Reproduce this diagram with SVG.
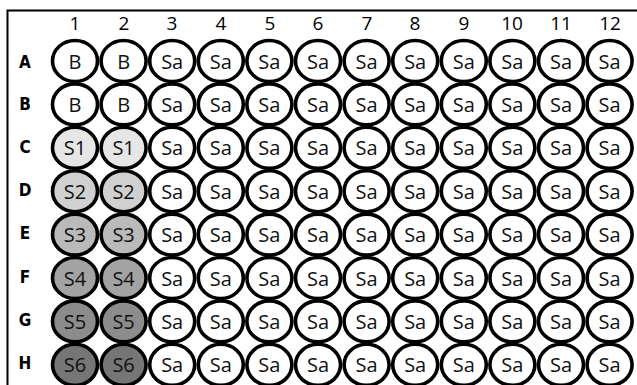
<svg xmlns="http://www.w3.org/2000/svg" width="637" height="385" viewBox="0 0 637 385">
<style>
.w{stroke:#000;stroke-width:3.6;fill:#fff}
.t{font-family:"Open Sans","DejaVu Sans",sans-serif;font-size:20px;fill:#111;text-anchor:middle;dominant-baseline:central}
.c{font-family:"Open Sans","DejaVu Sans",sans-serif;font-size:19px;fill:#000;text-anchor:middle}
.r{font-family:"DejaVu Sans Condensed","Liberation Sans Narrow",sans-serif;font-weight:bold;font-size:17px;fill:#000;text-anchor:middle;dominant-baseline:central}
</style>
<rect x="0" y="0" width="637" height="385" fill="#fff"/>
<rect x="7.5" y="10.5" width="640" height="390" fill="none" stroke="#000" stroke-width="2"/>
<g id="col-labels">
<text class="c" x="75" y="30">1</text><text class="c" x="124" y="30">2</text><text class="c" x="172" y="30">3</text><text class="c" x="221" y="30">4</text><text class="c" x="270" y="30">5</text><text class="c" x="318" y="30">6</text><text class="c" x="367" y="30">7</text><text class="c" x="415" y="30">8</text><text class="c" x="464" y="30">9</text><text class="c" x="512" y="30">10</text><text class="c" x="561" y="30">11</text><text class="c" x="610" y="30">12</text>
</g>
<g id="row-labels">
<text class="r" x="25" y="62">A</text><text class="r" x="25" y="104">B</text><text class="r" x="25" y="147">C</text><text class="r" x="25" y="190">D</text><text class="r" x="25" y="233">E</text><text class="r" x="25" y="277">F</text><text class="r" x="25" y="320">G</text><text class="r" x="25" y="363">H</text>
</g>
<g id="rowA">
<ellipse class="w" cx="75" cy="61" rx="22.5" ry="20.5"/><text class="t" x="75" y="61">B</text>
<ellipse class="w" cx="123.6" cy="61" rx="22.5" ry="20.5"/><text class="t" x="123.6" y="61">B</text>
<ellipse class="w" cx="172.2" cy="61" rx="22.5" ry="20.5"/><text class="t" x="172.2" y="61">Sa</text>
<ellipse class="w" cx="220.8" cy="61" rx="22.5" ry="20.5"/><text class="t" x="220.8" y="61">Sa</text>
<ellipse class="w" cx="269.4" cy="61" rx="22.5" ry="20.5"/><text class="t" x="269.4" y="61">Sa</text>
<ellipse class="w" cx="318" cy="61" rx="22.5" ry="20.5"/><text class="t" x="318" y="61">Sa</text>
<ellipse class="w" cx="366.6" cy="61" rx="22.5" ry="20.5"/><text class="t" x="366.6" y="61">Sa</text>
<ellipse class="w" cx="415.2" cy="61" rx="22.5" ry="20.5"/><text class="t" x="415.2" y="61">Sa</text>
<ellipse class="w" cx="463.8" cy="61" rx="22.5" ry="20.5"/><text class="t" x="463.8" y="61">Sa</text>
<ellipse class="w" cx="512.4" cy="61" rx="22.5" ry="20.5"/><text class="t" x="512.4" y="61">Sa</text>
<ellipse class="w" cx="561" cy="61" rx="22.5" ry="20.5"/><text class="t" x="561" y="61">Sa</text>
<ellipse class="w" cx="609.6" cy="61" rx="22.5" ry="20.5"/><text class="t" x="609.6" y="61">Sa</text>
</g>
<g id="rowB">
<ellipse class="w" cx="75" cy="104.4" rx="22.5" ry="20.5"/><text class="t" x="75" y="104.4">B</text>
<ellipse class="w" cx="123.6" cy="104.4" rx="22.5" ry="20.5"/><text class="t" x="123.6" y="104.4">B</text>
<ellipse class="w" cx="172.2" cy="104.4" rx="22.5" ry="20.5"/><text class="t" x="172.2" y="104.4">Sa</text>
<ellipse class="w" cx="220.8" cy="104.4" rx="22.5" ry="20.5"/><text class="t" x="220.8" y="104.4">Sa</text>
<ellipse class="w" cx="269.4" cy="104.4" rx="22.5" ry="20.5"/><text class="t" x="269.4" y="104.4">Sa</text>
<ellipse class="w" cx="318" cy="104.4" rx="22.5" ry="20.5"/><text class="t" x="318" y="104.4">Sa</text>
<ellipse class="w" cx="366.6" cy="104.4" rx="22.5" ry="20.5"/><text class="t" x="366.6" y="104.4">Sa</text>
<ellipse class="w" cx="415.2" cy="104.4" rx="22.5" ry="20.5"/><text class="t" x="415.2" y="104.4">Sa</text>
<ellipse class="w" cx="463.8" cy="104.4" rx="22.5" ry="20.5"/><text class="t" x="463.8" y="104.4">Sa</text>
<ellipse class="w" cx="512.4" cy="104.4" rx="22.5" ry="20.5"/><text class="t" x="512.4" y="104.4">Sa</text>
<ellipse class="w" cx="561" cy="104.4" rx="22.5" ry="20.5"/><text class="t" x="561" y="104.4">Sa</text>
<ellipse class="w" cx="609.6" cy="104.4" rx="22.5" ry="20.5"/><text class="t" x="609.6" y="104.4">Sa</text>
</g>
<g id="rowC">
<ellipse class="w" style="fill:#e6e6e6" cx="75" cy="147.8" rx="22.5" ry="20.5"/><text class="t" x="75" y="147.8">S1</text>
<ellipse class="w" style="fill:#e6e6e6" cx="123.6" cy="147.8" rx="22.5" ry="20.5"/><text class="t" x="123.6" y="147.8">S1</text>
<ellipse class="w" cx="172.2" cy="147.8" rx="22.5" ry="20.5"/><text class="t" x="172.2" y="147.8">Sa</text>
<ellipse class="w" cx="220.8" cy="147.8" rx="22.5" ry="20.5"/><text class="t" x="220.8" y="147.8">Sa</text>
<ellipse class="w" cx="269.4" cy="147.8" rx="22.5" ry="20.5"/><text class="t" x="269.4" y="147.8">Sa</text>
<ellipse class="w" cx="318" cy="147.8" rx="22.5" ry="20.5"/><text class="t" x="318" y="147.8">Sa</text>
<ellipse class="w" cx="366.6" cy="147.8" rx="22.5" ry="20.5"/><text class="t" x="366.6" y="147.8">Sa</text>
<ellipse class="w" cx="415.2" cy="147.8" rx="22.5" ry="20.5"/><text class="t" x="415.2" y="147.8">Sa</text>
<ellipse class="w" cx="463.8" cy="147.8" rx="22.5" ry="20.5"/><text class="t" x="463.8" y="147.8">Sa</text>
<ellipse class="w" cx="512.4" cy="147.8" rx="22.5" ry="20.5"/><text class="t" x="512.4" y="147.8">Sa</text>
<ellipse class="w" cx="561" cy="147.8" rx="22.5" ry="20.5"/><text class="t" x="561" y="147.8">Sa</text>
<ellipse class="w" cx="609.6" cy="147.8" rx="22.5" ry="20.5"/><text class="t" x="609.6" y="147.8">Sa</text>
</g>
<g id="rowD">
<ellipse class="w" style="fill:#d0d0d0" cx="75" cy="191.2" rx="22.5" ry="20.5"/><text class="t" x="75" y="191.2">S2</text>
<ellipse class="w" style="fill:#d0d0d0" cx="123.6" cy="191.2" rx="22.5" ry="20.5"/><text class="t" x="123.6" y="191.2">S2</text>
<ellipse class="w" cx="172.2" cy="191.2" rx="22.5" ry="20.5"/><text class="t" x="172.2" y="191.2">Sa</text>
<ellipse class="w" cx="220.8" cy="191.2" rx="22.5" ry="20.5"/><text class="t" x="220.8" y="191.2">Sa</text>
<ellipse class="w" cx="269.4" cy="191.2" rx="22.5" ry="20.5"/><text class="t" x="269.4" y="191.2">Sa</text>
<ellipse class="w" cx="318" cy="191.2" rx="22.5" ry="20.5"/><text class="t" x="318" y="191.2">Sa</text>
<ellipse class="w" cx="366.6" cy="191.2" rx="22.5" ry="20.5"/><text class="t" x="366.6" y="191.2">Sa</text>
<ellipse class="w" cx="415.2" cy="191.2" rx="22.5" ry="20.5"/><text class="t" x="415.2" y="191.2">Sa</text>
<ellipse class="w" cx="463.8" cy="191.2" rx="22.5" ry="20.5"/><text class="t" x="463.8" y="191.2">Sa</text>
<ellipse class="w" cx="512.4" cy="191.2" rx="22.5" ry="20.5"/><text class="t" x="512.4" y="191.2">Sa</text>
<ellipse class="w" cx="561" cy="191.2" rx="22.5" ry="20.5"/><text class="t" x="561" y="191.2">Sa</text>
<ellipse class="w" cx="609.6" cy="191.2" rx="22.5" ry="20.5"/><text class="t" x="609.6" y="191.2">Sa</text>
</g>
<g id="rowE">
<ellipse class="w" style="fill:#bababa" cx="75" cy="234.6" rx="22.5" ry="20.5"/><text class="t" x="75" y="234.6">S3</text>
<ellipse class="w" style="fill:#bababa" cx="123.6" cy="234.6" rx="22.5" ry="20.5"/><text class="t" x="123.6" y="234.6">S3</text>
<ellipse class="w" cx="172.2" cy="234.6" rx="22.5" ry="20.5"/><text class="t" x="172.2" y="234.6">Sa</text>
<ellipse class="w" cx="220.8" cy="234.6" rx="22.5" ry="20.5"/><text class="t" x="220.8" y="234.6">Sa</text>
<ellipse class="w" cx="269.4" cy="234.6" rx="22.5" ry="20.5"/><text class="t" x="269.4" y="234.6">Sa</text>
<ellipse class="w" cx="318" cy="234.6" rx="22.5" ry="20.5"/><text class="t" x="318" y="234.6">Sa</text>
<ellipse class="w" cx="366.6" cy="234.6" rx="22.5" ry="20.5"/><text class="t" x="366.6" y="234.6">Sa</text>
<ellipse class="w" cx="415.2" cy="234.6" rx="22.5" ry="20.5"/><text class="t" x="415.2" y="234.6">Sa</text>
<ellipse class="w" cx="463.8" cy="234.6" rx="22.5" ry="20.5"/><text class="t" x="463.8" y="234.6">Sa</text>
<ellipse class="w" cx="512.4" cy="234.6" rx="22.5" ry="20.5"/><text class="t" x="512.4" y="234.6">Sa</text>
<ellipse class="w" cx="561" cy="234.6" rx="22.5" ry="20.5"/><text class="t" x="561" y="234.6">Sa</text>
<ellipse class="w" cx="609.6" cy="234.6" rx="22.5" ry="20.5"/><text class="t" x="609.6" y="234.6">Sa</text>
</g>
<g id="rowF">
<ellipse class="w" style="fill:#a3a3a3" cx="75" cy="278" rx="22.5" ry="20.5"/><text class="t" x="75" y="278">S4</text>
<ellipse class="w" style="fill:#a3a3a3" cx="123.6" cy="278" rx="22.5" ry="20.5"/><text class="t" x="123.6" y="278">S4</text>
<ellipse class="w" cx="172.2" cy="278" rx="22.5" ry="20.5"/><text class="t" x="172.2" y="278">Sa</text>
<ellipse class="w" cx="220.8" cy="278" rx="22.5" ry="20.5"/><text class="t" x="220.8" y="278">Sa</text>
<ellipse class="w" cx="269.4" cy="278" rx="22.5" ry="20.5"/><text class="t" x="269.4" y="278">Sa</text>
<ellipse class="w" cx="318" cy="278" rx="22.5" ry="20.5"/><text class="t" x="318" y="278">Sa</text>
<ellipse class="w" cx="366.6" cy="278" rx="22.5" ry="20.5"/><text class="t" x="366.6" y="278">Sa</text>
<ellipse class="w" cx="415.2" cy="278" rx="22.5" ry="20.5"/><text class="t" x="415.2" y="278">Sa</text>
<ellipse class="w" cx="463.8" cy="278" rx="22.5" ry="20.5"/><text class="t" x="463.8" y="278">Sa</text>
<ellipse class="w" cx="512.4" cy="278" rx="22.5" ry="20.5"/><text class="t" x="512.4" y="278">Sa</text>
<ellipse class="w" cx="561" cy="278" rx="22.5" ry="20.5"/><text class="t" x="561" y="278">Sa</text>
<ellipse class="w" cx="609.6" cy="278" rx="22.5" ry="20.5"/><text class="t" x="609.6" y="278">Sa</text>
</g>
<g id="rowG">
<ellipse class="w" style="fill:#8c8c8c" cx="75" cy="321.4" rx="22.5" ry="20.5"/><text class="t" x="75" y="321.4">S5</text>
<ellipse class="w" style="fill:#8c8c8c" cx="123.6" cy="321.4" rx="22.5" ry="20.5"/><text class="t" x="123.6" y="321.4">S5</text>
<ellipse class="w" cx="172.2" cy="321.4" rx="22.5" ry="20.5"/><text class="t" x="172.2" y="321.4">Sa</text>
<ellipse class="w" cx="220.8" cy="321.4" rx="22.5" ry="20.5"/><text class="t" x="220.8" y="321.4">Sa</text>
<ellipse class="w" cx="269.4" cy="321.4" rx="22.5" ry="20.5"/><text class="t" x="269.4" y="321.4">Sa</text>
<ellipse class="w" cx="318" cy="321.4" rx="22.5" ry="20.5"/><text class="t" x="318" y="321.4">Sa</text>
<ellipse class="w" cx="366.6" cy="321.4" rx="22.5" ry="20.5"/><text class="t" x="366.6" y="321.4">Sa</text>
<ellipse class="w" cx="415.2" cy="321.4" rx="22.5" ry="20.5"/><text class="t" x="415.2" y="321.4">Sa</text>
<ellipse class="w" cx="463.8" cy="321.4" rx="22.5" ry="20.5"/><text class="t" x="463.8" y="321.4">Sa</text>
<ellipse class="w" cx="512.4" cy="321.4" rx="22.5" ry="20.5"/><text class="t" x="512.4" y="321.4">Sa</text>
<ellipse class="w" cx="561" cy="321.4" rx="22.5" ry="20.5"/><text class="t" x="561" y="321.4">Sa</text>
<ellipse class="w" cx="609.6" cy="321.4" rx="22.5" ry="20.5"/><text class="t" x="609.6" y="321.4">Sa</text>
</g>
<g id="rowH">
<ellipse class="w" style="fill:#767676" cx="75" cy="364.8" rx="22.5" ry="20.5"/><text class="t" x="75" y="364.8">S6</text>
<ellipse class="w" style="fill:#767676" cx="123.6" cy="364.8" rx="22.5" ry="20.5"/><text class="t" x="123.6" y="364.8">S6</text>
<ellipse class="w" cx="172.2" cy="364.8" rx="22.5" ry="20.5"/><text class="t" x="172.2" y="364.8">Sa</text>
<ellipse class="w" cx="220.8" cy="364.8" rx="22.5" ry="20.5"/><text class="t" x="220.8" y="364.8">Sa</text>
<ellipse class="w" cx="269.4" cy="364.8" rx="22.5" ry="20.5"/><text class="t" x="269.4" y="364.8">Sa</text>
<ellipse class="w" cx="318" cy="364.8" rx="22.5" ry="20.5"/><text class="t" x="318" y="364.8">Sa</text>
<ellipse class="w" cx="366.6" cy="364.8" rx="22.5" ry="20.5"/><text class="t" x="366.6" y="364.8">Sa</text>
<ellipse class="w" cx="415.2" cy="364.8" rx="22.5" ry="20.5"/><text class="t" x="415.2" y="364.8">Sa</text>
<ellipse class="w" cx="463.8" cy="364.8" rx="22.5" ry="20.5"/><text class="t" x="463.8" y="364.8">Sa</text>
<ellipse class="w" cx="512.4" cy="364.8" rx="22.5" ry="20.5"/><text class="t" x="512.4" y="364.8">Sa</text>
<ellipse class="w" cx="561" cy="364.8" rx="22.5" ry="20.5"/><text class="t" x="561" y="364.8">Sa</text>
<ellipse class="w" cx="609.6" cy="364.8" rx="22.5" ry="20.5"/><text class="t" x="609.6" y="364.8">Sa</text>
</g>
<g id="connectors"></g>
</svg>
